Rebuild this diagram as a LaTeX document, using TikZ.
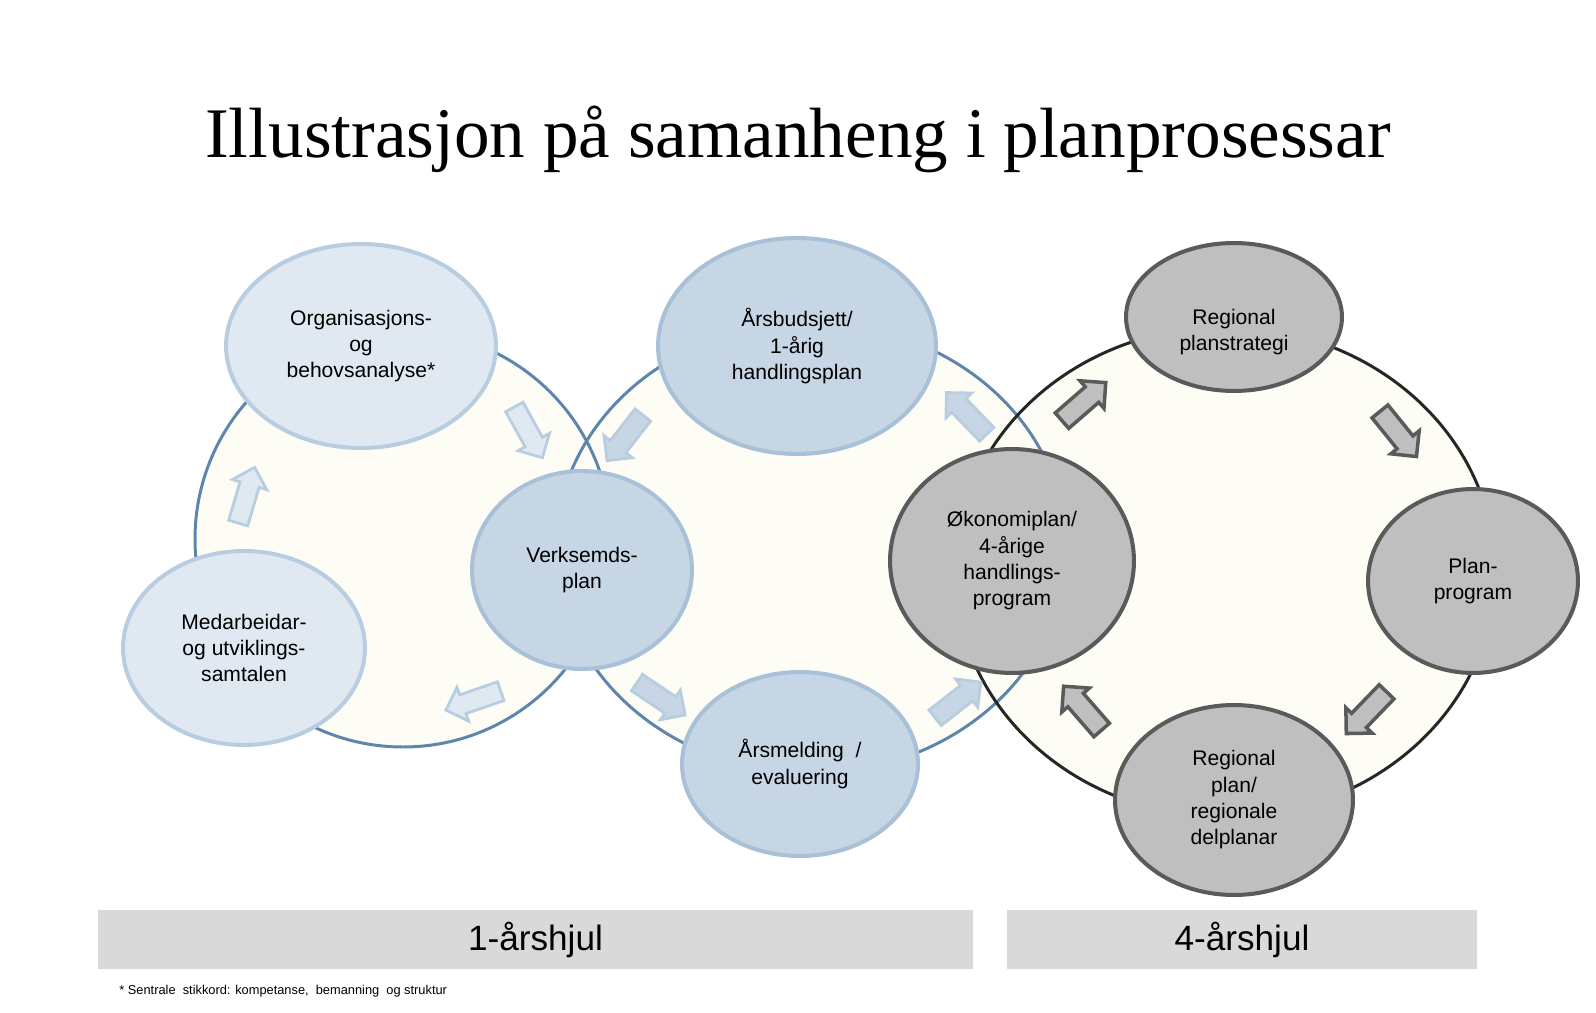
\documentclass[tikz,border=0pt]{standalone}
\usepackage{fontspec}
\setmainfont{Liberation Sans}
\newfontfamily\titlefont{Liberation Serif}
\usetikzlibrary{shapes.geometric,shapes.arrows}
\definecolor{wheelfill}{HTML}{FDFDF5}
\definecolor{wheelblue}{HTML}{5E86AD}
\definecolor{wheeldark}{HTML}{262626}
\definecolor{palefill}{HTML}{E0E9F2}
\definecolor{paleline}{HTML}{B9CDE1}
\definecolor{bluefill}{HTML}{C6D6E5}
\definecolor{blueline}{HTML}{A8C0D8}
\definecolor{greyfill}{HTML}{BFBFBF}
\definecolor{greyline}{HTML}{5A5A5A}
\definecolor{barfill}{HTML}{D9D9D9}
\tikzset{
    oval/.style 2 args={ellipse, inner sep=0pt, align=center,
        font=\fontsize{12}{15}\selectfont,
        minimum width=#1*0.04cm, minimum height=#2*0.04cm},
    paleoval/.style={fill=palefill, draw=paleline, line width=2.3pt},
    bluoval/.style={fill=bluefill, draw=blueline, line width=2.3pt},
    greyoval/.style={fill=greyfill, draw=greyline, line width=2.3pt},
    flow/.style={single arrow, minimum height=1.16cm, inner sep=0.17cm,
        single arrow head extend=0.16cm, line width=1.6pt},
    paleflow/.style={flow, fill=palefill, draw=paleline},
    bluflow/.style={flow, fill=bluefill, draw=paleline},
    greyflow/.style={flow, fill=greyfill, draw=greyline, line width=2pt},
    bar/.style={rectangle, fill=barfill, minimum height=1.18cm,
        font=\fontsize{20}{24}\selectfont},
}

\begin{document}
\begin{tikzpicture}[x=0.02cm, y=-0.02cm]
\useasboundingbox (0,0) rectangle (1596,1013);
\fill[white] (0,0) rectangle (1596,1013);

\node[font=\titlefont\fontsize{40.5}{48}\selectfont, anchor=base] (title) at (798,158)
    {Illustrasjon på samanheng i planprosessar};

% the three wheels
\fill[wheelfill] (403,539) circle [radius=208];
\fill[wheelfill] (811,548) ellipse [x radius=255, y radius=225];
\fill[wheelfill] (1225,572) ellipse [x radius=270, y radius=245];
\draw[wheelblue, line width=1.7pt] (403,539) circle [radius=208];
\draw[wheelblue, line width=1.7pt] (811,548) ellipse [x radius=255, y radius=225];
\draw[wheeldark, line width=1.7pt] (1225,572) ellipse [x radius=270, y radius=245];

\node[oval={135}{102}, paleoval] (org) at (361,346) {Organisasjons-\\og\\behovsanalyse*};
\node[oval={121}{97}, paleoval] (medarb) at (244,648) {Medarbeidar-\\og utviklings-\\samtalen};
\node[oval={110}{99}, bluoval] (verks) at (582,570) {Verksemds-\\plan};
\node[oval={139}{108}, bluoval] (budsj) at (797,346) {Årsbudsjett/\\1-årig\\handlingsplan};
\node[oval={118}{92}, bluoval] (melding) at (800,764) {Årsmelding\ \ /\\evaluering};
\node[oval={122}{112}, greyoval] (okon) at (1012,561) {Økonomiplan/\\4-årige\\handlings-\\program};
\node[oval={108}{74}, greyoval,
    label={[align=center, yshift=-0.3cm, font=\fontsize{12}{15}\selectfont]center:Regional\\planstrategi}]
    (strat) at (1234,317) {};
\node[oval={105}{92}, greyoval] (planprog) at (1473,581) {Plan-\\program};
\node[oval={119}{95}, greyoval] (regplan) at (1234,800) {Regional\\plan/\\regionale\\delplanar};

% arrows round the wheels
\node[paleflow, rotate=-61] (a1) at (526,428) {};
\node[paleflow, rotate=199] (a2) at (478,699) {};
\node[paleflow, rotate=73.5] (a3) at (245,500) {};
\node[bluflow, rotate=232] (a4) at (628,434) {};
\node[bluflow, rotate=-34] (a5) at (657,696) {};
\node[bluflow, rotate=38] (a6) at (954,703) {};
\node[bluflow, rotate=134] (a7) at (970,417) {};
\node[greyflow, rotate=41] (a8) at (1080,405) {};
\node[greyflow, rotate=-51] (a9) at (1395,430) {};
\node[greyflow, rotate=226] (a10) at (1370,709) {};
\node[greyflow, rotate=131] (a11) at (1086,712) {};

\node[bar, minimum width=17.5cm] (bar1) at (535.5,939.5) {1-årshjul};
\node[bar, minimum width=9.4cm] (bar4) at (1242,939.5) {4-årshjul};
\node[anchor=base west, inner sep=0pt, font=\fontsize{7.3}{8.5}\selectfont] (note) at (119,994)
    {* Sentrale\ \ stikkord: kompetanse,\ \ bemanning\ \ og struktur};
\end{tikzpicture}
\end{document}
